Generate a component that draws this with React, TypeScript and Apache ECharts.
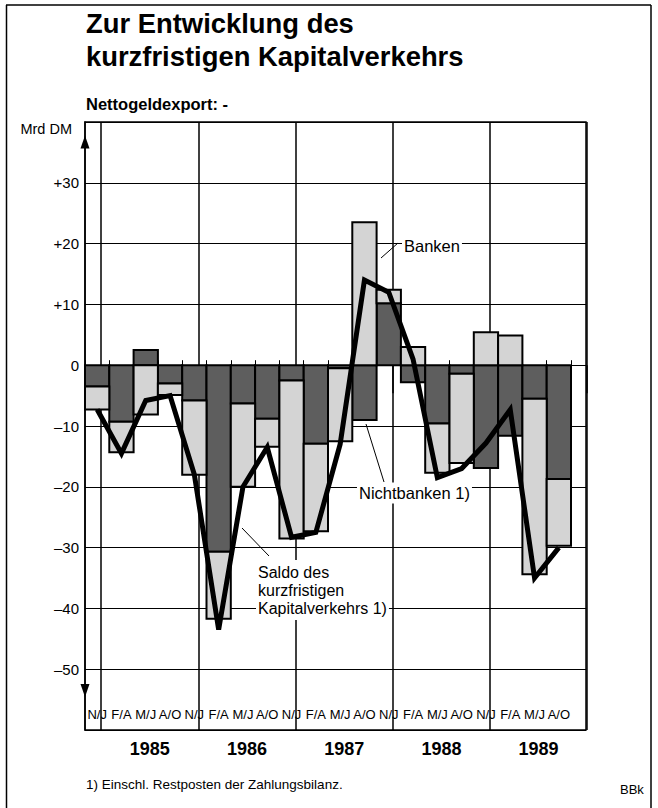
import React, { useEffect, useRef } from "react";
import * as echarts from "echarts";

// ---- data (Mrd DM, Nettogeldexport: -) ----
const periods = ["N/J", "F/A", "M/J", "A/O"];
const years = ["1985", "1986", "1987", "1988", "1989"];
const periodLabels = years.flatMap(() => periods);
const nichtbanken = [-3.5, -9.3, 2.5, -3.0, -5.8, -30.7, -6.3, -8.8, -2.5, -12.9, -0.5, -9.0, 10.2, -2.8, -9.6, -1.4, -16.9, -11.6, -5.5, -18.7];
const banken = [-3.8, -5.0, -8.1, -1.9, -12.2, -11.0, -13.7, -4.6, -26.0, -14.4, -12.0, 23.5, 2.2, 3.0, -8.1, -14.7, 5.4, 4.9, -28.9, -11.0];
const saldo = [-7.3, -14.5, -5.8, -5.0, -18.0, -43.5, -20.0, -13.5, -28.3, -27.5, -13.0, 14.0, 12.0, 1.0, -18.5, -17.0, -12.8, -7.3, -35.0, -30.0];
const yMin = -60;
const yMax = 40;
const yStep = 10;
const yearStart = 2 / 3; // Jan starts after Nov, Dec within the N/J period
const arrowUp = 36.7;
const arrowDown = -53.5;

const FONT = '"Liberation Sans", Arial, Helvetica, sans-serif';

export default function App() {
  const ref = useRef<HTMLDivElement>(null);
  useEffect(() => {
    const chart = echarts.init(ref.current!, null, { renderer: "svg" });
    const gLeft = 85;
    const gTop = 122;
    const gRight = 586;
    const gBottom = 730;
    const barW = 24.3;
    const xMax = (gRight - gLeft) / barW;
    const gH = gBottom - gTop;

    // stacked segments: Nichtbanken from zero, Banken on top if same sign
    const nbRows = nichtbanken.map((v, i) => [i, 0, v]);
    const bRows = banken.map((v, i) => {
      const nb = nichtbanken[i];
      const base = (v >= 0) === (nb >= 0) ? nb : 0;
      return [i, base, base + v];
    });

    const renderSeg = (fill: string) => (params: any, api: any) => {
      const x = api.value(0);
      const a = api.coord([x, api.value(1)]);
      const b = api.coord([x + 1, api.value(2)]);
      return {
        type: "rect",
        shape: { x: a[0], y: Math.min(a[1], b[1]), width: b[0] - a[0], height: Math.abs(b[1] - a[1]) },
        style: { fill, stroke: "#000", lineWidth: 2 },
      };
    };

    const txt = (text: string, x: number, y: number, size: number, bold = false, extra: any = {}) => ({
      type: "text",
      z: 100,
      style: {
        text,
        x,
        y,
        fill: "#000",
        fontFamily: FONT,
        fontSize: size,
        fontWeight: bold ? "bold" : "normal",
        align: "left",
        verticalAlign: "middle",
        ...extra,
      },
    });
    const ln = (x1: number, y1: number, x2: number, y2: number, w = 1) => ({
      type: "line",
      z: 100,
      shape: { x1, y1, x2, y2 },
      style: { stroke: "#000", lineWidth: w },
    });

    const option: any = {
      animation: false,
      backgroundColor: "#fff",
      textStyle: { fontFamily: FONT },
      grid: [
        { left: gLeft, top: gTop, width: gRight - gLeft, height: gH, show: true, borderColor: "#000", borderWidth: 1.5, backgroundColor: "transparent" },
        { left: gLeft, top: gTop, width: 20 * barW, height: gH },
        { left: gLeft + yearStart * barW, top: gTop, width: 20 * barW, height: gH },
      ],
      xAxis: [
        { type: "value", gridIndex: 0, min: 0, max: xMax, show: false },
        {
          type: "category",
          gridIndex: 1,
          data: periodLabels,
          boundaryGap: true,
          axisLine: { show: false },
          axisTick: { show: true, inside: true, length: 5, interval: 0, lineStyle: { color: "#000", width: 1 } },
          axisLabel: { inside: true, interval: 0, margin: 9, fontSize: 13, color: "#000", fontFamily: FONT },
          splitLine: { show: false },
        },
        {
          type: "category",
          gridIndex: 2,
          data: years,
          boundaryGap: true,
          axisLine: { show: false },
          axisTick: { show: true, inside: false, length: 28, interval: 0, lineStyle: { color: "#000", width: 1.5 } },
          axisLabel: { interval: 0, margin: 10, fontSize: 18, fontWeight: "bold", color: "#000", fontFamily: FONT },
          splitLine: { show: true, interval: 0, lineStyle: { color: "#000", width: 1.5 } },
        },
      ],
      yAxis: [
        {
          type: "value",
          gridIndex: 0,
          min: yMin,
          max: yMax,
          interval: yStep,
          axisLine: { show: true, lineStyle: { color: "#000", width: 1.5 } },
          axisTick: { show: false },
          splitLine: { show: true, lineStyle: { color: "#000", width: 1 } },
          axisLabel: {
            color: "#000",
            fontSize: 15,
            margin: 6,
            fontFamily: FONT,
            formatter: (v: number) =>
              v === yMax ? "{u|Mrd DM}" : v === yMin ? "" : v > 0 ? "+" + v : v < 0 ? "\u2013" + Math.abs(v) : "0",
            rich: { u: { fontSize: 14.5, padding: [14, 7, 0, 0], color: "#000", fontFamily: FONT } },
          },
        },
        { type: "value", gridIndex: 1, show: false, min: yMin, max: yMax },
        { type: "value", gridIndex: 2, show: false, min: yMin, max: yMax },
      ],
      series: [
        {
          type: "custom",
          name: "Nichtbanken",
          xAxisIndex: 0,
          yAxisIndex: 0,
          data: nbRows,
          encode: { x: 0, y: [1, 2] },
          renderItem: renderSeg("#5e5e5e"),
          z: 3,
        },
        {
          type: "custom",
          name: "Banken",
          xAxisIndex: 0,
          yAxisIndex: 0,
          data: bRows,
          encode: { x: 0, y: [1, 2] },
          renderItem: renderSeg("#d4d4d4"),
          z: 3,
        },
        {
          type: "line",
          name: "Saldo",
          xAxisIndex: 0,
          yAxisIndex: 0,
          data: saldo.map((v, i) => [i + 0.5, v]),
          symbol: "none",
          lineStyle: { color: "#000", width: 5, join: "miter", miterLimit: 10 },
          z: 5,
          markPoint: {
            silent: true,
            symbol: "triangle",
            symbolSize: [9, 13],
            itemStyle: { color: "#000" },
            label: { show: false },
            data: [
              { coord: [0, arrowUp] },
              { coord: [0, arrowDown], symbolRotate: 180 },
            ],
          },
        },
      ],
      graphic: [
        ln(6.5, 5, 6.5, 808, 1.5),
        ln(6, 5, 651, 5, 1.5),
        ln(651, 5, 651, 808, 1.5),
        txt("Zur Entwicklung des", 86, 23, 27.4, true),
        txt("kurzfristigen Kapitalverkehrs", 86, 56, 27.4, true),
        txt("Nettogeldexport: -", 86, 104, 16.5, true),
        txt("1) Einschl. Restposten der Zahlungsbilanz.", 86, 784, 13.5),
        txt("BBk", 620, 789, 13),
        ln(398, 243, 381, 258),
        txt("Banken", 402, 246, 16.5, false, { backgroundColor: "#fff", padding: [1, 2, 1, 2] }),
        ln(384, 482, 366, 424),
        txt("Nichtbanken 1)", 357, 493, 16.5, false, { backgroundColor: "#fff", padding: [2, 2, 2, 2] }),
        ln(269, 556, 242, 528),
        txt("Saldo des\nkurzfristigen\nKapitalverkehrs 1)", 256, 590, 16, false, {
          backgroundColor: "#fff",
          padding: [3, 2, 3, 2],
          lineHeight: 18,
        }),
      ],
    };
    chart.setOption(option);
    return () => chart.dispose();
  }, []);
  return (
    <div
      ref={ref}
      style={{ position: "absolute", left: 0, top: 0, width: 658, height: 808, background: "#fff" }}
    />
  );
}
